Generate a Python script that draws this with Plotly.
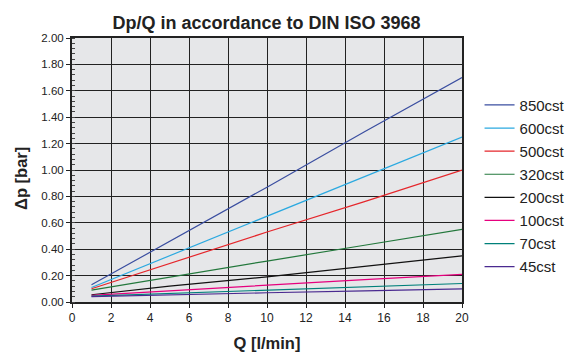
import plotly.graph_objects as go

q = [1, 5, 10, 15, 20]
series_names = ["850cst", "600cst", "500cst", "320cst", "200cst", "100cst", "70cst", "45cst"]
v850 = [0.13, 0.46, 0.87, 1.29, 1.70]
v600 = [0.11, 0.35, 0.65, 0.95, 1.25]
v500 = [0.10, 0.29, 0.53, 0.76, 1.00]
v320 = [0.09, 0.19, 0.31, 0.43, 0.55]
v200 = [0.055, 0.12, 0.19, 0.27, 0.35]
v100 = [0.05, 0.085, 0.125, 0.17, 0.21]
v70 = [0.045, 0.065, 0.09, 0.115, 0.14]
v45 = [0.04, 0.055, 0.07, 0.085, 0.10]
values = [v850, v600, v500, v320, v200, v100, v70, v45]
colors = ["#3a4ea0", "#2ba9e0", "#e5262b", "#23783c", "#111111", "#e6007e", "#00807a", "#4a2a90"]

x_ticks = list(range(0, 21, 2))
y_ticks = [round(i * 0.2, 2) for i in range(11)]
y_labels = [f"{v:.2f}" for v in y_ticks]

fig = go.Figure()
for i, (name, vals, c) in enumerate(zip(series_names, values, colors)):
    fig.add_trace(go.Scatter(x=q, y=vals, mode="lines", name=name,
                             line=dict(color=c, width=1.2), legendgroup=f"g{i}"))

fig.update_layout(
    width=575, height=352,
    margin=dict(l=72, r=113, t=38, b=50, autoexpand=False),
    paper_bgcolor="white", plot_bgcolor="#e6e7e9",
    font=dict(family="Liberation Sans, Arial, sans-serif", color="#222222", size=11.5),
    title=dict(text="<b>Dp/Q in accordance to DIN ISO 3968</b>", x=0.4635, xanchor="center",
               xref="container", y=0.935, yanchor="middle", font=dict(size=18, color="#222222")),
    legend=dict(x=1.045, y=0.808, xanchor="left", yanchor="top", bgcolor="rgba(0,0,0,0)",
                font=dict(size=15, color="#222222"), traceorder="grouped", tracegroupgap=0.6),
    showlegend=True,
)
fig.add_annotation(text="<b>Δp [bar]</b>", textangle=-90, xref="paper", yref="paper",
                   x=-0.1295, y=0.468, xanchor="center", yanchor="middle", showarrow=False,
                   font=dict(size=16.5, color="#222222"))
fig.update_xaxes(range=[0, 20], tickvals=x_ticks, ticktext=[str(t) for t in x_ticks],
                 showgrid=True, gridcolor="#222222", gridwidth=1.4, automargin=False,
                 showline=True, linecolor="#222222", linewidth=2, mirror=True,
                 ticks="outside", ticklen=4, tickcolor="#222222", zeroline=False,
                 tickfont=dict(size=12),
                 title=dict(text="<b>Q [l/min]</b>", font=dict(size=16.5), standoff=14))
fig.update_yaxes(range=[0, 2.0], tickvals=y_ticks, ticktext=y_labels,
                 showgrid=True, gridcolor="#222222", gridwidth=1.4, automargin=False,
                 showline=True, linecolor="#222222", linewidth=2, mirror=True,
                 ticks="outside", ticklen=4, tickcolor="#222222", zeroline=False,
                 minor=dict(dtick=0.04, ticks="inside", ticklen=3, tickcolor="#444444", showgrid=False))
fig.write_html("out.html")
